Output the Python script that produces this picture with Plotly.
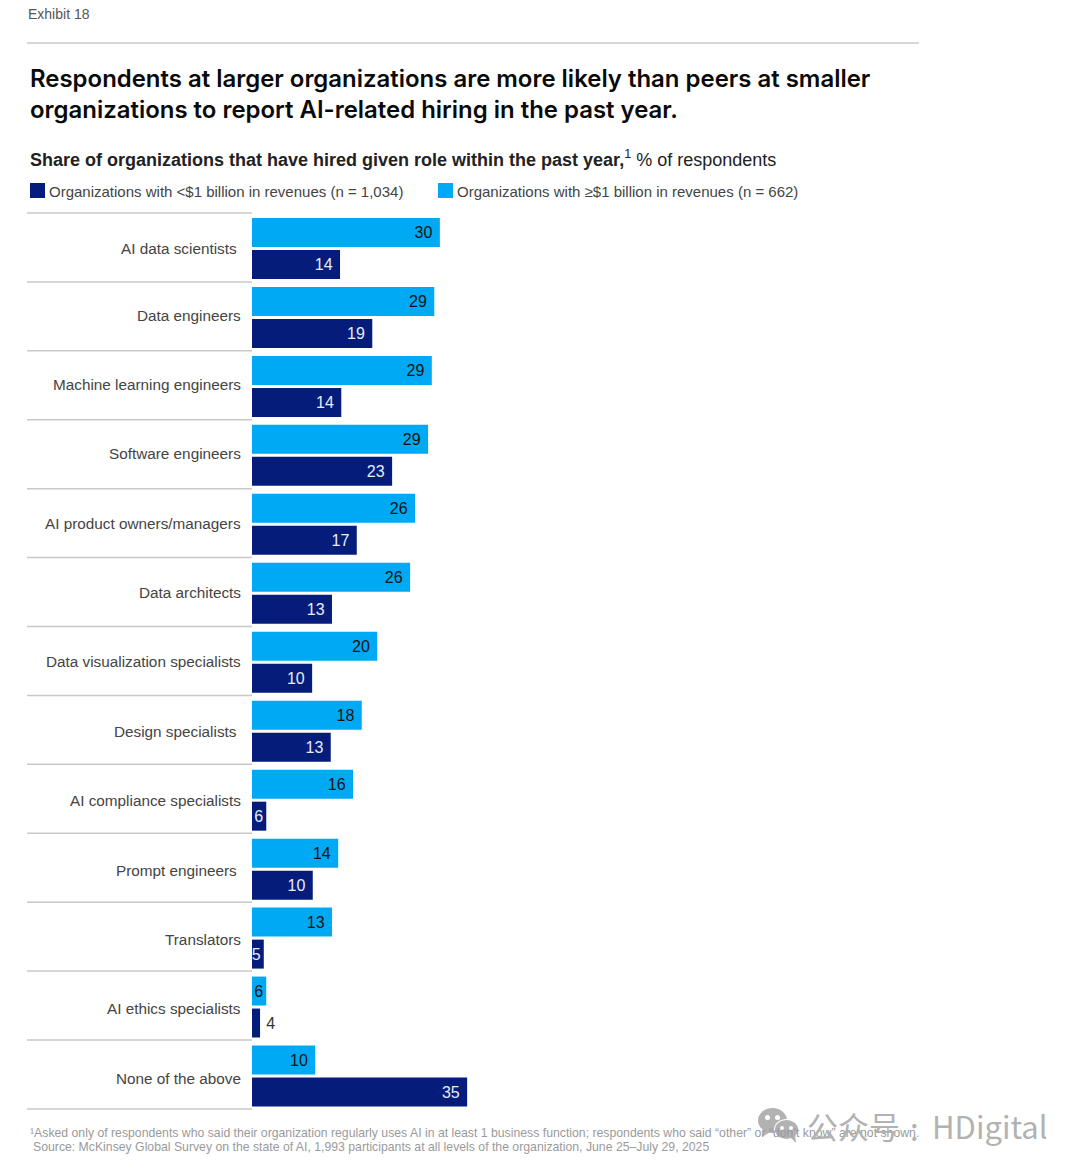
"""McKinsey exhibit: AI-related hiring by organization size."""
import plotly.graph_objects as go

WIDTH = 1080
HEIGHT = 1169

roles = [
    "AI data scientists", "Data engineers", "Machine learning engineers",
    "Software engineers", "AI product owners/managers", "Data architects",
    "Data visualization specialists", "Design specialists",
    "AI compliance specialists", "Prompt engineers", "Translators",
    "AI ethics specialists", "None of the above",
]
# bar lengths as drawn in the picture (they differ a bit from the printed labels)
large_lengths = [30.3, 29.4, 29.0, 28.4, 26.3, 25.5, 20.2, 17.7, 16.3, 13.9, 12.9, 2.3, 10.2]
small_lengths = [14.2, 19.4, 14.4, 22.6, 16.9, 12.9, 9.7, 12.7, 2.3, 9.8, 1.9, 1.3, 34.7]
large_labels = ["30", "29", "29", "29", "26", "26", "20", "18", "16", "14", "13", "6", "10"]
small_labels = ["14", "19", "14", "23", "17", "13", "10", "13", "6", "10", "5", "4", "35"]
# the source nudges some role labels by a few pixels
role_xshift = [-4, 0, 0, 0, 0, 0, 0, -4, 0, -4, 0, 0, 0]
role_yshift = [0, 2, 2, 2, 1, 1, 1, 0, 0, -1, -1, -1, -2]

legend_labels = [
    "Organizations with &lt;$1 billion in revenues (n = 1,034)",
    "Organizations with ≥$1 billion in revenues (n = 662)",
]

DARK = "#051C7B"
LIGHT = "#00A9F4"
RULE = "#C8C8C8"
MARK = "#B2B2B2"
BODY_FONT = "Liberation Sans"
HEAD_FONT = "Inter"
CJK_FONT = "Noto Sans CJK SC"


def px(x):
    return x / WIDTH


def py(y):
    return 1 - y / HEIGHT


def page_text(x, y, text, size, color, family=BODY_FONT, weight=None):
    font = dict(family=family, size=size, color=color)
    if weight:
        font["weight"] = weight
    return dict(
        x=px(x), y=py(y), xref="paper", yref="paper", text=text, showarrow=False,
        xanchor="left", yanchor="middle", align="left", font=font,
    )


def pad(label):
    return label + "&nbsp;" if len(label) > 1 else label


def blob(x0, x1, y0, y1, fill):
    return dict(type="circle", xref="paper", yref="paper", x0=px(x0), x1=px(x1),
                y0=py(y0), y1=py(y1), fillcolor=fill, line=dict(width=0))


fig = go.Figure()
fig.add_trace(
    go.Bar(
        y=roles, x=large_lengths, orientation="h", name="≥$1 billion",
        marker=dict(color=LIGHT, line=dict(width=0)),
        text=[pad(t) for t in large_labels],
        textposition="inside", insidetextanchor="end", textangle=0,
        constraintext="none",
        textfont=dict(family=BODY_FONT, size=16, color="#111111"),
    )
)
fig.add_trace(
    go.Bar(
        y=roles, x=small_lengths, orientation="h", name="<$1 billion",
        marker=dict(color=DARK, line=dict(width=0)),
        text=[pad(t) if t != "4" else "\u20094" for t in small_labels],
        textposition=["outside" if t == "4" else "inside" for t in small_labels],
        insidetextanchor="end", textangle=0, constraintext="none",
        textfont=dict(
            family=BODY_FONT, size=16,
            color=["#333333" if t == "4" else "#E8ECF8" for t in small_labels],
        ),
        cliponaxis=False,
    )
)

annotations = [
    page_text(26, 14, "Exhibit 18", 14, "#555555"),
    page_text(
        28, 94,
        "Respondents at larger organizations are more likely than peers at smaller<br>"
        "organizations to report AI-related hiring in the past year.",
        23.95, "#0A0A0A", family=HEAD_FONT, weight=600,
    ),
    page_text(
        28, 158,
        "<b>Share of organizations that have hired given role within the past year,</b>"
        "<sup>1</sup> % of respondents",
        18, "#222222",
    ),
    page_text(47, 191, legend_labels[0], 15, "#444444"),
    page_text(455, 191, legend_labels[1], 15, "#444444"),
    page_text(
        28, 1133,
        "¹Asked only of respondents who said their organization regularly uses AI "
        "in at least 1 business function; respondents who said “other” or “don’t know” are not shown.",
        12.25, "#9A9A9A",
    ),
    page_text(
        31, 1147,
        "Source: McKinsey Global Survey on the state of AI, 1,993 participants at all levels "
        "of the organization, June 25–July 29, 2025",
        12.25, "#9A9A9A",
    ),
    page_text(805, 1125, "公众号", 31, MARK, family=CJK_FONT),
    page_text(908, 1127, ":", 31, MARK, family=CJK_FONT),
    page_text(930, 1125, "HDigital", 31, MARK, family=CJK_FONT),
]

for role, dx, dy in zip(roles, role_xshift, role_yshift):
    annotations.append(
        dict(
            x=0, y=role, xref="x", yref="y", text=role, showarrow=False,
            xanchor="right", yanchor="middle", xshift=dx - 9, yshift=dy,
            font=dict(family=BODY_FONT, size=15.3, color="#444444"),
        )
    )

shapes = [
    dict(type="line", xref="paper", yref="paper", x0=px(27), x1=px(919),
         y0=py(43), y1=py(43), line=dict(color=RULE, width=1.5)),
    dict(type="rect", xref="paper", yref="paper", x0=px(30), x1=px(45),
         y0=py(183), y1=py(198), fillcolor=DARK, line=dict(width=0)),
    dict(type="rect", xref="paper", yref="paper", x0=px(438), x1=px(453),
         y0=py(183), y1=py(198), fillcolor=LIGHT, line=dict(width=0)),
]
# row separators run slightly tighter than the bar rows
for i in range(len(roles) + 1):
    y = py(213 + i * 68.92)
    shapes.append(
        dict(type="line", xref="paper", yref="paper", x0=px(27), x1=px(252),
             y0=y, y1=y, line=dict(color=RULE, width=1.5))
    )
# watermark chat bubbles
shapes += [
    blob(758, 787, 1108, 1133, MARK),
    dict(type="path", xref="paper", yref="paper", fillcolor=MARK, line=dict(width=0),
         path=f"M {px(764)} {py(1129)} L {px(762)} {py(1137)} L {px(772)} {py(1131)} Z"),
    blob(774, 799, 1119, 1140, "white"),
    blob(775, 798, 1120, 1139, MARK),
    dict(type="path", xref="paper", yref="paper", fillcolor=MARK, line=dict(width=0),
         path=f"M {px(790)} {py(1137)} L {px(796)} {py(1143)} L {px(795)} {py(1134)} Z"),
    blob(765, 770, 1115, 1120, "white"),
    blob(775, 780, 1115, 1120, "white"),
    blob(780, 784, 1126, 1130, "white"),
    blob(789, 793, 1126, 1130, "white"),
]

fig.update_layout(
    width=WIDTH, height=HEIGHT, autosize=False,
    margin=dict(l=0, r=0, t=0, b=0, pad=0),
    paper_bgcolor="white", plot_bgcolor="white",
    showlegend=False, barmode="group", bargap=0.072, bargroupgap=0.094,
    annotations=annotations, shapes=shapes,
    xaxis=dict(domain=[px(252), 1], range=[0, 828 / 6.2], visible=False),
    yaxis=dict(domain=[py(1110.5), py(214)], autorange="reversed", categoryorder="array",
               categoryarray=roles, showticklabels=False, showgrid=False,
               zeroline=False, ticks=""),
)

fig.write_html(
    "out.html",
    config={"displayModeBar": False},
    post_script="document.body.style.margin='0';",
)
